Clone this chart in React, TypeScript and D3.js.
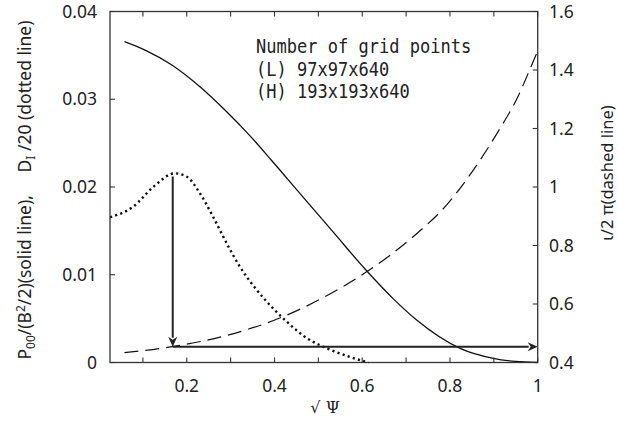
import React from "react";
import * as d3 from "d3";

// sqrt(psi) positions and values
const solidX = [0.058, 0.105, 0.166, 0.234, 0.287, 0.34, 0.393, 0.454, 0.534, 0.61, 0.671, 0.724, 0.823, 0.899, 0.95, 1.0];
const solidY = [0.03656, 0.0356, 0.0339, 0.03125, 0.02877, 0.02605, 0.02305, 0.0195, 0.01485, 0.01045, 0.00725, 0.00484, 0.00162, 0.00048, 0.00012, 0.0];

const dottedX = [0.025, 0.078, 0.124, 0.173, 0.2, 0.23, 0.26, 0.291, 0.321, 0.359, 0.4, 0.424, 0.469, 0.53, 0.58, 0.614];
const dottedY = [0.01655, 0.01776, 0.02003, 0.02156, 0.02117, 0.01928, 0.01661, 0.01358, 0.01092, 0.0083, 0.006, 0.00484, 0.00294, 0.0014, 0.0005, 0.0];

const dashedX = [0.058, 0.166, 0.279, 0.416, 0.515, 0.61, 0.716, 0.792, 0.861, 0.914, 0.952, 0.99, 1.0];
const dashedY = [0.4335, 0.454, 0.488, 0.5545, 0.625, 0.71, 0.83, 0.938, 1.075, 1.2, 1.3, 1.43, 1.465];

const xTicks = [0.1, 0.2, 0.3, 0.4, 0.5, 0.6, 0.7, 0.8, 0.9, 1.0];
const xTickLabels = ["0.2", "0.4", "0.6", "0.8", "1"];
const xLabeled = [0.2, 0.4, 0.6, 0.8, 1.0];
const leftTicks = [0, 0.01, 0.02, 0.03, 0.04];
const leftTickLabels = ["0", "0.01", "0.02", "0.03", "0.04"];
const rightTicks = [0.4, 0.6, 0.8, 1.0, 1.2, 1.4, 1.6];
const rightTickLabels = ["0.4", "0.6", "0.8", "1", "1.2", "1.4", "1.6"];

const legendLines = ["Number of grid points", "(L) 97x97x640", "(H) 193x193x640"];

// arrow: from dotted peak down to dashed curve, then right to iota axis
const arrowX = 0.168;
const arrowTopLeft = 0.0212;
const arrowRightVal = 0.454;

const W = 618, H = 432;
const L = 110, R = 537.7, T = 11.5, B = 362.5;

export default function App() {
  const x = d3.scaleLinear().domain([0.025, 1]).range([L, R]);
  const yL = d3.scaleLinear().domain([0, 0.04]).range([B, T]);
  const yR = d3.scaleLinear().domain([0.4, 1.6]).range([B, T]);

  const lineL = d3.line<[number, number]>().x(d => x(d[0])).y(d => yL(d[1])).curve(d3.curveMonotoneX);
  const lineR = d3.line<[number, number]>().x(d => x(d[0])).y(d => yR(d[1])).curve(d3.curveMonotoneX);

  const solid = solidX.map((v, i) => [v, solidY[i]] as [number, number]);
  const dotted = dottedX.map((v, i) => [v, dottedY[i]] as [number, number]);
  const dashed = dashedX.map((v, i) => [v, dashedY[i]] as [number, number]);

  const tickFont = "'Noto Sans', sans-serif";
  const ax = x(arrowX);
  const ayTop = yL(arrowTopLeft);
  const ayBot = yR(arrowRightVal);
  const ah = 10, aw = 4.5;

  return (
    <svg width={W} height={H} style={{ position: "absolute", left: 0, top: 0, background: "#fff" }}>
      <rect x={0} y={0} width={W} height={H} fill="#fff" />
      {/* curves */}
      <path d={lineL(solid) || ""} fill="none" stroke="#111" strokeWidth={1.3} />
      <path d={lineL(dotted) || ""} fill="none" stroke="#111" strokeWidth={2.4} strokeDasharray="2.2,3.2" />
      <path d={lineR(dashed) || ""} fill="none" stroke="#111" strokeWidth={1.2} strokeDasharray="14,7" />

      {/* arrows */}
      <line x1={ax} y1={ayTop} x2={ax} y2={ayBot - ah + 1} stroke="#222" strokeWidth={2} />
      <path d={`M${ax},${ayBot} L${ax - aw},${ayBot - ah} L${ax},${ayBot - ah + 3} L${ax + aw},${ayBot - ah} Z`} fill="#222" />
      <line x1={ax} y1={ayBot} x2={R - ah + 1} y2={ayBot} stroke="#222" strokeWidth={2} />
      <path d={`M${R},${ayBot} L${R - ah},${ayBot - aw} L${R - ah + 3},${ayBot} L${R - ah},${ayBot + aw} Z`} fill="#222" />

      {/* frame */}
      <rect x={L} y={T} width={R - L} height={B - T} fill="none" stroke="#333" strokeWidth={1.3} />
      {xTicks.map((t, i) => (
        <g key={"xt" + i}>
          <line x1={x(t)} x2={x(t)} y1={B} y2={B - 5} stroke="#333" strokeWidth={1.1} />
          <line x1={x(t)} x2={x(t)} y1={T} y2={T + 5} stroke="#333" strokeWidth={1.1} />
        </g>
      ))}
      {leftTicks.map((t, i) => (
        <line key={"lt" + i} x1={L} x2={L + 5} y1={yL(t)} y2={yL(t)} stroke="#333" strokeWidth={1.1} />
      ))}
      {rightTicks.map((t, i) => (
        <line key={"rt" + i} x1={R} x2={R - 5} y1={yR(t)} y2={yR(t)} stroke="#333" strokeWidth={1.1} />
      ))}

      {/* tick labels */}
      {xLabeled.map((t, i) => (
        <text key={"xl" + i} x={x(t)} y={391.5} textAnchor="middle" fontFamily={tickFont} fontSize={17.5} fill="#222">{xTickLabels[i]}</text>
      ))}
      {leftTicks.map((t, i) => (
        <text key={"ll" + i} x={97} y={yL(t) + 6} textAnchor="end" fontFamily={tickFont} fontSize={17.5} fill="#222">{leftTickLabels[i]}</text>
      ))}
      {rightTicks.map((t, i) => (
        <text key={"rl" + i} x={549} y={yR(t) + 6} textAnchor="start" fontFamily={tickFont} fontSize={17.5} fill="#222">{rightTickLabels[i]}</text>
      ))}

      {/* axis titles */}
      <text transform="translate(31,190) rotate(-90)" textAnchor="middle" fontFamily={tickFont} fontSize={17.5} fill="#222" style={{ whiteSpace: "pre" }}>
        P<tspan dy={4} fontSize={12}>00</tspan><tspan dy={-4}>/(B</tspan><tspan dy={-6} fontSize={12}>2</tspan><tspan dy={6}>/2)(solid line),     D</tspan><tspan dy={4} fontSize={12}>I</tspan><tspan dy={-4}> /20 (dotted line)</tspan>
      </text>
      <text transform="translate(613,173) rotate(-90)" textAnchor="middle" fontFamily={tickFont} fontSize={16.5} fill="#222">ι/2 π(dashed line)</text>
      <text x={325} y={413} textAnchor="middle" fontFamily="'DejaVu Serif', serif" fontSize={16} fill="#222">√ Ψ</text>

      {/* legend */}
      {legendLines.map((s, i) => (
        <text key={"lg" + i} x={256} y={53 + i * 22.5} fontFamily="'DejaVu Sans Mono', monospace" fontSize={20} fill="#222"
          textLength={s.length * 10.25} lengthAdjust="spacingAndGlyphs">{s}</text>
      ))}
    </svg>
  );
}
